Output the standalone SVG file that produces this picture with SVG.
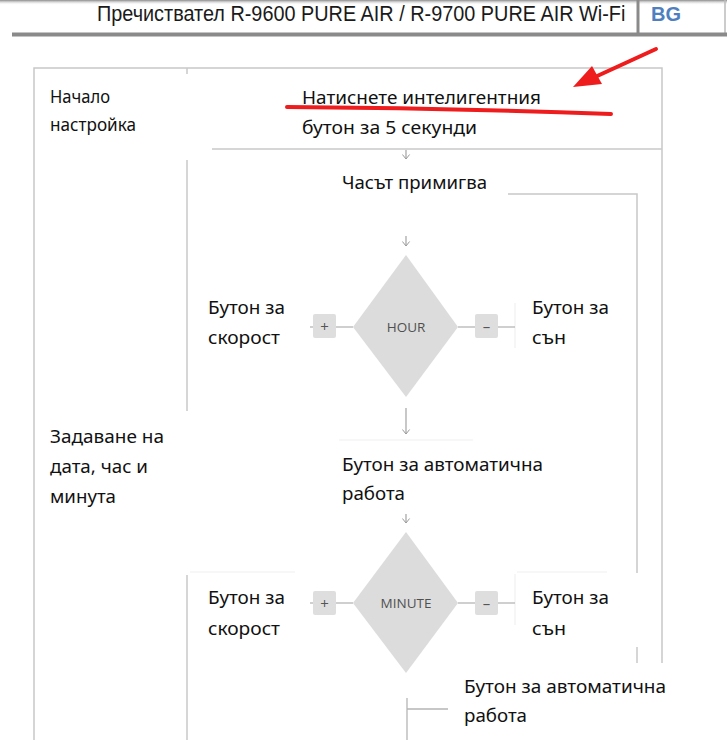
<svg xmlns="http://www.w3.org/2000/svg" width="727" height="740" viewBox="0 0 727 740">
<defs>
<linearGradient id="topShade" x1="0" y1="0" x2="0" y2="1">
<stop offset="0" stop-color="#8a8a8a"/>
<stop offset="1" stop-color="#ffffff" stop-opacity="0"/>
</linearGradient>
<marker id="arr" viewBox="0 0 10 10" refX="9" refY="5" markerWidth="9" markerHeight="9" markerUnits="userSpaceOnUse" orient="auto">
<path d="M4,1 L9,5 L4,9" fill="none" stroke="#9a9a9a" stroke-width="1.1"/>
</marker>
</defs>
<style>
.t{font-family:"Noto Sans","Open Sans","DejaVu Sans",sans-serif;font-size:18px;fill:#111}
.ln{stroke:#c8c8c8;stroke-width:1.5;fill:none}
.fl{stroke:#f0f0f0;stroke-width:1.2;fill:none}
.cn{stroke:#b5b5b5;stroke-width:1.3;fill:none}
.ar{stroke:#9a9a9a;stroke-width:1.1;fill:none}
.dia{fill:#dcdcdc}
.btn{fill:#dedede}
.dl{font-family:"Open Sans","Noto Sans",sans-serif;font-size:13.5px;fill:#505050;text-anchor:middle}
.sym{font-family:"Open Sans","Noto Sans",sans-serif;font-size:15px;fill:#555;text-anchor:middle}
</style>
<rect width="727" height="740" fill="#fff"/>
<rect x="0" y="0" width="727" height="5" fill="url(#topShade)"/>

<g id="header">
<text transform="translate(97,21) scale(0.9,1)" x="0" y="0" font-family="Liberation Sans, Arial, sans-serif" font-size="22" fill="#1a1a1a" textLength="587" lengthAdjust="spacingAndGlyphs">Пречиствател R-9600 PURE AIR / R-9700 PURE AIR Wi-Fi</text>
<line x1="638" y1="0" x2="638" y2="36" stroke="#8a8a8a" stroke-width="3"/>
<text x="651" y="21" font-family="Liberation Sans, Arial, sans-serif" font-size="20" font-weight="bold" fill="#4f7fbf">BG</text>
<line x1="725" y1="0" x2="725" y2="36" stroke="#bbb" stroke-width="1.5"/>
<line x1="12" y1="34.5" x2="727" y2="34.5" stroke="#8a8a8a" stroke-width="4"/>
</g>

<g id="frame">
<path class="ln" d="M34,740 V68 H662 V663"/>
<line class="ln" x1="187" y1="68" x2="187" y2="74"/>
<line class="ln" x1="187" y1="160" x2="187" y2="411"/>
<line class="ln" x1="187" y1="575" x2="187" y2="740"/>
<line class="ln" x1="212" y1="149" x2="662" y2="149"/>
<path class="ln" d="M508,194 H637 V573"/>
<line class="ln" x1="637" y1="647" x2="637" y2="663"/>
<line class="fl" x1="339" y1="440" x2="473" y2="440"/>
<line class="fl" x1="190" y1="572" x2="295" y2="572"/>
<line class="fl" x1="517" y1="572" x2="607" y2="572"/>
<line class="fl" x1="515" y1="303" x2="515" y2="348"/>
<line class="fl" x1="515" y1="574" x2="515" y2="625"/>
</g>

<g id="start-label">
<text class="t" x="50" y="103" textLength="60" lengthAdjust="spacingAndGlyphs">Начало</text>
<text class="t" x="50" y="131" textLength="86" lengthAdjust="spacingAndGlyphs">настройка</text>
</g>

<g id="step-press">
<text class="t" x="302" y="104" textLength="239" lengthAdjust="spacingAndGlyphs">Натиснете интелигентния</text>
<text class="t" x="302" y="134" textLength="175" lengthAdjust="spacingAndGlyphs">бутон за 5 секунди</text>
</g>

<g id="step-blink">
<text class="t" x="342" y="189" textLength="145" lengthAdjust="spacingAndGlyphs">Часът примигва</text>
</g>

<g id="hour">
<polygon class="dia" points="406,255 458,327 406,397 353,327"/>
<text class="dl" x="406" y="332">HOUR</text>
</g>
<g id="hour-plus">
<rect class="btn" x="313" y="314" width="23" height="24" rx="2"/>
<text class="sym" x="324.5" y="331.5">+</text>
</g>
<g id="hour-minus">
<rect class="btn" x="475" y="314" width="23" height="24" rx="2"/>
<text class="sym" x="486.5" y="331.5">–</text>
</g>
<g id="hour-speed-label">
<text class="t" x="208" y="314" textLength="77" lengthAdjust="spacingAndGlyphs">Бутон за</text>
<text class="t" x="208" y="344" textLength="72" lengthAdjust="spacingAndGlyphs">скорост</text>
</g>
<g id="hour-sleep-label">
<text class="t" x="532" y="314" textLength="77" lengthAdjust="spacingAndGlyphs">Бутон за</text>
<text class="t" x="532" y="344" textLength="34" lengthAdjust="spacingAndGlyphs">сън</text>
</g>

<g id="set-label">
<text class="t" x="50" y="443" textLength="114" lengthAdjust="spacingAndGlyphs">Задаване на</text>
<text class="t" x="50" y="473" textLength="98" lengthAdjust="spacingAndGlyphs">дата, час и</text>
<text class="t" x="50" y="503" textLength="66" lengthAdjust="spacingAndGlyphs">минута</text>
</g>

<g id="step-auto1">
<text class="t" x="342" y="471" textLength="201" lengthAdjust="spacingAndGlyphs">Бутон за автоматична</text>
<text class="t" x="342" y="500" textLength="63" lengthAdjust="spacingAndGlyphs">работа</text>
</g>

<g id="minute">
<polygon class="dia" points="406,532 458,603 406,673 353,603"/>
<text class="dl" x="406" y="608">MINUTE</text>
</g>
<g id="minute-plus">
<rect class="btn" x="313" y="591" width="23" height="24" rx="2"/>
<text class="sym" x="324.5" y="608.5">+</text>
</g>
<g id="minute-minus">
<rect class="btn" x="475" y="591" width="23" height="24" rx="2"/>
<text class="sym" x="486.5" y="608.5">–</text>
</g>
<g id="minute-speed-label">
<text class="t" x="208" y="604" textLength="77" lengthAdjust="spacingAndGlyphs">Бутон за</text>
<text class="t" x="208" y="635" textLength="72" lengthAdjust="spacingAndGlyphs">скорост</text>
</g>
<g id="minute-sleep-label">
<text class="t" x="532" y="604" textLength="77" lengthAdjust="spacingAndGlyphs">Бутон за</text>
<text class="t" x="532" y="635" textLength="34" lengthAdjust="spacingAndGlyphs">сън</text>
</g>

<g id="step-auto2">
<text class="t" x="464" y="693" textLength="202" lengthAdjust="spacingAndGlyphs">Бутон за автоматична</text>
<text class="t" x="464" y="722" textLength="63" lengthAdjust="spacingAndGlyphs">работа</text>
</g>

<g id="connectors">
<line class="ar" x1="406" y1="150" x2="406" y2="159" marker-end="url(#arr)"/>
<line class="ar" x1="406" y1="236" x2="406" y2="246" marker-end="url(#arr)"/>
<line class="ar" x1="406" y1="408" x2="406" y2="434" marker-end="url(#arr)"/>
<line class="ar" x1="406" y1="514" x2="406" y2="523" marker-end="url(#arr)"/>
<line class="cn" x1="310" y1="327" x2="313" y2="327"/>
<line class="cn" x1="336" y1="327" x2="353" y2="327"/>
<line class="cn" x1="458" y1="327" x2="475" y2="327"/>
<line class="cn" x1="498" y1="327" x2="515" y2="327"/>
<line class="cn" x1="310" y1="603" x2="313" y2="603"/>
<line class="cn" x1="336" y1="603" x2="353" y2="603"/>
<line class="cn" x1="458" y1="603" x2="475" y2="603"/>
<line class="cn" x1="498" y1="603" x2="515" y2="603"/>
<path class="cn" d="M407,698 V740 M407,709 H448"/>
</g>

<g id="annotation">
<path d="M287,107 Q450,108 611,114" fill="none" stroke="#ee1c1c" stroke-width="4" stroke-linecap="round"/>
<line x1="656" y1="49" x2="595" y2="77" stroke="#ee1c1c" stroke-width="4" stroke-linecap="round"/>
<polygon points="573,87 592,66 602,84" fill="#ee1c1c"/>
</g>
</svg>
